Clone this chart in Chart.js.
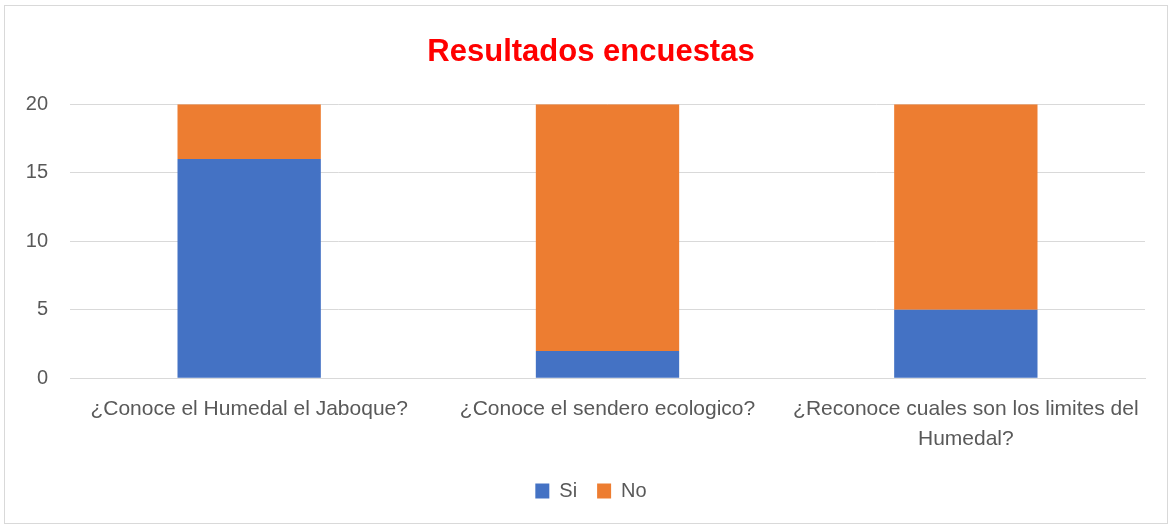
<!DOCTYPE html>
<html>
<head>
<meta charset="utf-8">
<script src="https://cdn.jsdelivr.net/npm/chart.js@4"></script>
<style>
  body { margin: 0; background: #fff; }
  #wrap { position: relative; width: 1168px; height: 526px; }
  #frame { position: absolute; left: 4px; top: 5px; width: 1162px; height: 517px; border: 1px solid #d9d9d9; pointer-events: none; }
  canvas { position: absolute; left: 0; top: 0; }
</style>
</head>
<body>
<div id="wrap">
  <canvas id="myChart" width="1168" height="526"></canvas>
  <div id="frame"></div>
</div>
<script>
const categories = [
    '¿Conoce el Humedal el Jaboque?',
    '¿Conoce el sendero ecologico?',
    ['¿Reconoce cuales son los limites del', 'Humedal?']
];
const siValues = [16, 2, 5];
const noValues = [4, 18, 15];
const yTicks = [0, 5, 10, 15, 20];

const textColor = '#595959';
const font = 'Liberation Sans';

const ctx = document.getElementById('myChart').getContext('2d');
const myChart = new Chart(ctx, {
    type: 'bar',
    data: {
        labels: categories,
        datasets: [{
            label: 'Si',
            data: siValues,
            backgroundColor: '#4472c4',
            categoryPercentage: 0.4,
            barPercentage: 1
        }, {
            label: 'No',
            data: noValues,
            backgroundColor: '#ed7d31',
            categoryPercentage: 0.4,
            barPercentage: 1
        }]
    },
    options: {
        responsive: false,
        animation: false,
        layout: {
            padding: { left: 14, right: 0, top: 10, bottom: 15 }
        },
        plugins: {
            title: {
                display: true,
                text: 'Resultados encuestas',
                color: '#ff0000',
                font: { family: font, size: 31, weight: 'bold' },
                padding: { top: 24, bottom: 33 }
            },
            legend: {
                position: 'bottom',
                labels: {
                    color: textColor,
                    font: { family: font, size: 20 },
                    boxWidth: 14,
                    boxHeight: 15,
                    padding: 20
                }
            },
            tooltip: { enabled: false }
        },
        scales: {
            x: {
                stacked: true,
                grid: { display: false, drawTicks: false },
                border: { color: '#d9d9d9' },
                afterFit: function (axis) {
                    axis.height -= 9;
                },
                ticks: {
                    color: textColor,
                    font: { family: font, size: 21, lineHeight: 1.42 },
                    maxRotation: 0,
                    padding: 16
                }
            },
            y: {
                stacked: true,
                min: 0,
                max: 20,
                afterBuildTicks: function (axis) {
                    axis.ticks = yTicks.map(function (v) { return { value: v }; });
                },
                afterFit: function (axis) {
                    axis.width = 56;
                },
                grid: { color: '#d9d9d9', drawTicks: false },
                border: { display: false },
                ticks: {
                    color: textColor,
                    font: { family: font, size: 20 },
                    padding: 22
                }
            },
            // empty right-hand spacer so the plot ends where the original does
            spacer: {
                type: 'linear',
                position: 'right',
                grid: { display: false, drawTicks: false },
                border: { display: false },
                ticks: { display: false },
                afterFit: function (axis) {
                    axis.width = 23;
                }
            }
        }
    }
});
</script>
</body>
</html>
